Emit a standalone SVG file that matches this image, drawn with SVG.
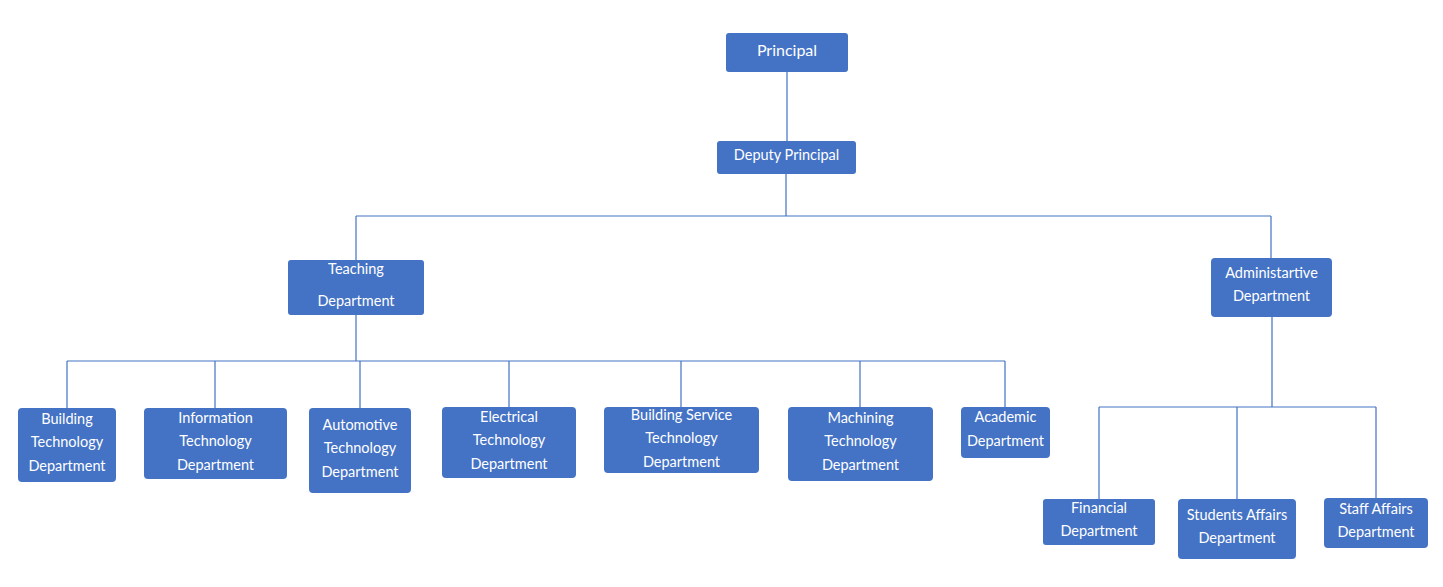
<svg xmlns="http://www.w3.org/2000/svg" width="1443" height="587" viewBox="0 0 1443 587">
<style>
.box{fill:#4472C4;}
text{font-family:Lato,"Noto Sans","Liberation Sans",sans-serif;font-size:14.5px;fill:#ffffff;text-anchor:middle;dominant-baseline:central;}
.big{font-size:16px;}
.conn{stroke:#4472C4;stroke-width:1.2;fill:none;}
</style>
<rect width="1443" height="587" fill="#ffffff"/>
<g id="connectors">
<path class="conn" d="M787 72V141"/>
<path class="conn" d="M786 174V216M356 216H1271M356 216V260M1271 216V258"/>
<path class="conn" d="M356 315V361M67 361H1005M67 361V408M215 361V408M360 361V408M509 361V407M681 361V407M860 361V407M1005 361V407"/>
<path class="conn" d="M1272 317V407M1099 407H1376M1099 407V499M1237 407V499M1376 407V498"/>
</g>
<g id="principal"><rect class="box" x="726" y="33" width="122" height="39" rx="3"/><text class="big" x="787" y="49">Principal</text></g>
<g id="deputy"><rect class="box" x="717" y="141" width="139" height="33" rx="3"/><text x="786.5" y="154">Deputy Principal</text></g>
<g id="teaching"><rect class="box" x="288" y="260" width="136" height="55" rx="3"/><text x="356" y="268">Teaching</text><text x="356" y="300">Department</text></g>
<g id="administrative"><rect class="box" x="1211" y="258" width="121" height="59" rx="4"/><text x="1271.5" y="272">Administartive</text><text x="1271.5" y="295">Department</text></g>
<g id="building-tech"><rect class="box" x="18" y="408" width="98" height="74" rx="4"/><text x="67" y="418">Building</text><text x="67" y="441">Technology</text><text x="67" y="465">Department</text></g>
<g id="information-tech"><rect class="box" x="144" y="408" width="143" height="71" rx="4"/><text x="215.5" y="417">Information</text><text x="215.5" y="440">Technology</text><text x="215.5" y="464">Department</text></g>
<g id="automotive-tech"><rect class="box" x="309" y="408" width="102" height="85" rx="4"/><text x="360" y="424">Automotive</text><text x="360" y="447">Technology</text><text x="360" y="471">Department</text></g>
<g id="electrical-tech"><rect class="box" x="442" y="407" width="134" height="71" rx="4"/><text x="509" y="416">Electrical</text><text x="509" y="439">Technology</text><text x="509" y="463">Department</text></g>
<g id="building-service-tech"><rect class="box" x="604" y="407" width="155" height="66" rx="4"/><text x="681.5" y="414">Building Service</text><text x="681.5" y="437">Technology</text><text x="681.5" y="461">Department</text></g>
<g id="machining-tech"><rect class="box" x="788" y="407" width="145" height="74" rx="4"/><text x="860.5" y="417">Machining</text><text x="860.5" y="440">Technology</text><text x="860.5" y="464">Department</text></g>
<g id="academic"><rect class="box" x="961" y="407" width="89" height="51" rx="4"/><text x="1005.5" y="416">Academic</text><text x="1005.5" y="440">Department</text></g>
<g id="financial"><rect class="box" x="1043" y="499" width="112" height="46" rx="3"/><text x="1099" y="507">Financial</text><text x="1099" y="530">Department</text></g>
<g id="students-affairs"><rect class="box" x="1178" y="499" width="118" height="60" rx="4"/><text x="1237" y="514">Students Affairs</text><text x="1237" y="537">Department</text></g>
<g id="staff-affairs"><rect class="box" x="1324" y="498" width="104" height="50" rx="4"/><text x="1376" y="508">Staff Affairs</text><text x="1376" y="531">Department</text></g>
</svg>
